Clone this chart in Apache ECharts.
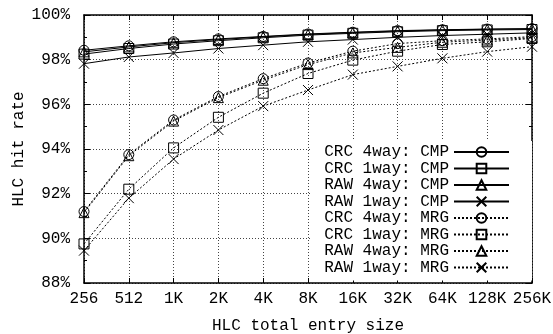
<!DOCTYPE html>
<html><head><meta charset="utf-8">
<script src="https://cdn.jsdelivr.net/npm/echarts@6/dist/echarts.min.js"></script>
<style>html,body{margin:0;padding:0;background:#fff}#c{width:553px;height:334px}</style>
</head><body><div id="c"></div>
<script>
var categories = ['256','512','1K','2K','4K','8K','16K','32K','64K','128K','256K'];
var yTicks = [88, 90, 92, 94, 96, 98, 100];
var seriesNames = ['CRC 4way: CMP','CRC 1way: CMP','RAW 4way: CMP','RAW 1way: CMP','CRC 4way: MRG','CRC 1way: MRG','RAW 4way: MRG','RAW 1way: MRG'];
var crc4Cmp = [98.42, 98.62, 98.80, 98.93, 99.04, 99.15, 99.23, 99.30, 99.34, 99.37, 99.39];
var crc1Cmp = [98.25, 98.50, 98.70, 98.85, 98.98, 99.10, 99.18, 99.25, 99.30, 99.33, 99.35];
var raw4Cmp = [98.35, 98.57, 98.76, 98.90, 99.02, 99.13, 99.21, 99.28, 99.33, 99.36, 99.38];
var raw1Cmp = [97.82, 98.12, 98.30, 98.50, 98.65, 98.80, 98.90, 99.00, 99.08, 99.14, 99.20];
var crc4Mrg = [91.20, 93.75, 95.30, 96.35, 97.15, 97.85, 98.38, 98.72, 98.85, 98.93, 99.03];
var crc1Mrg = [89.75, 92.20, 94.05, 95.42, 96.50, 97.38, 97.98, 98.38, 98.68, 98.80, 98.95];
var raw4Mrg = [91.15, 93.70, 95.25, 96.30, 97.08, 97.78, 98.30, 98.55, 98.78, 98.88, 98.98];
var raw1Mrg = [89.45, 91.80, 93.55, 94.85, 95.92, 96.64, 97.33, 97.70, 98.06, 98.36, 98.58];

var FONT = 'Liberation Mono';
var FS = 16;
var symbols = ['circle', 'rect', 'triangle', 'path://M0,0L10,10M0,10L10,0'];
var dataSets = [crc4Cmp, crc1Cmp, raw4Cmp, raw1Cmp, crc4Mrg, crc1Mrg, raw4Mrg, raw1Mrg];

var series = dataSets.map(function (d, i) {
  var dotted = i >= 4;
  return {
    name: seriesNames[i],
    type: 'line',
    data: d,
    symbol: symbols[i % 4],
    symbolSize: 10,
    showSymbol: true,
    animation: false,
    lineStyle: {color: '#000', width: 1, type: dotted ? [2, 2] : 'solid'},
    itemStyle: {color: 'transparent', borderColor: '#000', borderWidth: 1},
    emphasis: {disabled: true}
  };
});

var gridLine = {show: true, lineStyle: {color: '#444', width: 1, type: [1, 2]}};

var option = {
  backgroundColor: '#fff',
  animation: false,
  grid: {left: 84, right: 21, top: 15, bottom: 51, containLabel: false, outerBoundsMode: 'none'},
  legend: {
    data: seriesNames,
    orient: 'vertical',
    right: 21,
    top: 141,
    align: 'right',
    itemWidth: 55,
    itemHeight: 12,
    itemGap: 0.5,
    padding: [3, 22, 5, 14],
    backgroundColor: '#fff',
    selectedMode: false,
    textStyle: {fontFamily: FONT, fontSize: FS, color: '#000'}
  },
  xAxis: [{
    type: 'category',
    data: categories,
    boundaryGap: false,
    name: 'HLC total entry size',
    nameLocation: 'middle',
    nameGap: 35,
    nameMoveOverlap: false,
    nameTextStyle: {fontFamily: FONT, fontSize: FS, color: '#000'},
    axisLine: {lineStyle: {color: '#000', width: 1.5}},
    axisTick: {inside: true, length: 5, alignWithLabel: true, lineStyle: {color: '#000'}},
    axisLabel: {fontFamily: FONT, fontSize: FS, color: '#000', margin: 8, interval: 0},
    splitLine: gridLine
  }, {
    type: 'category',
    data: categories,
    boundaryGap: false,
    position: 'top',
    axisLine: {lineStyle: {color: '#000', width: 1.5}},
    axisTick: {inside: true, length: 5, lineStyle: {color: '#000'}},
    axisLabel: {show: false},
    splitLine: {show: false}
  }],
  yAxis: [{
    type: 'value',
    min: yTicks[0],
    max: yTicks[yTicks.length - 1],
    interval: 2,
    name: 'HLC hit rate',
    nameLocation: 'middle',
    nameGap: 57,
    nameMoveOverlap: false,
    nameTextStyle: {fontFamily: FONT, fontSize: FS, color: '#000'},
    axisLine: {show: true, lineStyle: {color: '#000', width: 1.5}},
    axisTick: {show: true, inside: true, length: 6, lineStyle: {color: '#000'}},
    minorTick: {show: true, splitNumber: 2, length: 3, lineStyle: {color: '#000'}},
    axisLabel: {fontFamily: FONT, fontSize: FS, color: '#000', margin: 14, formatter: '{value}%'},
    splitLine: gridLine
  }, {
    type: 'value',
    min: yTicks[0],
    max: yTicks[yTicks.length - 1],
    interval: 2,
    position: 'right',
    axisLine: {show: true, lineStyle: {color: '#000', width: 1.5}},
    axisTick: {show: true, inside: true, length: 6, lineStyle: {color: '#000'}},
    minorTick: {show: true, splitNumber: 2, length: 3, lineStyle: {color: '#000'}},
    axisLabel: {show: false},
    splitLine: {show: false}
  }],
  series: series
};
var chart = echarts.init(document.getElementById('c'), null, {renderer: 'canvas'});
chart.setOption(option);
</script>
</body></html>
